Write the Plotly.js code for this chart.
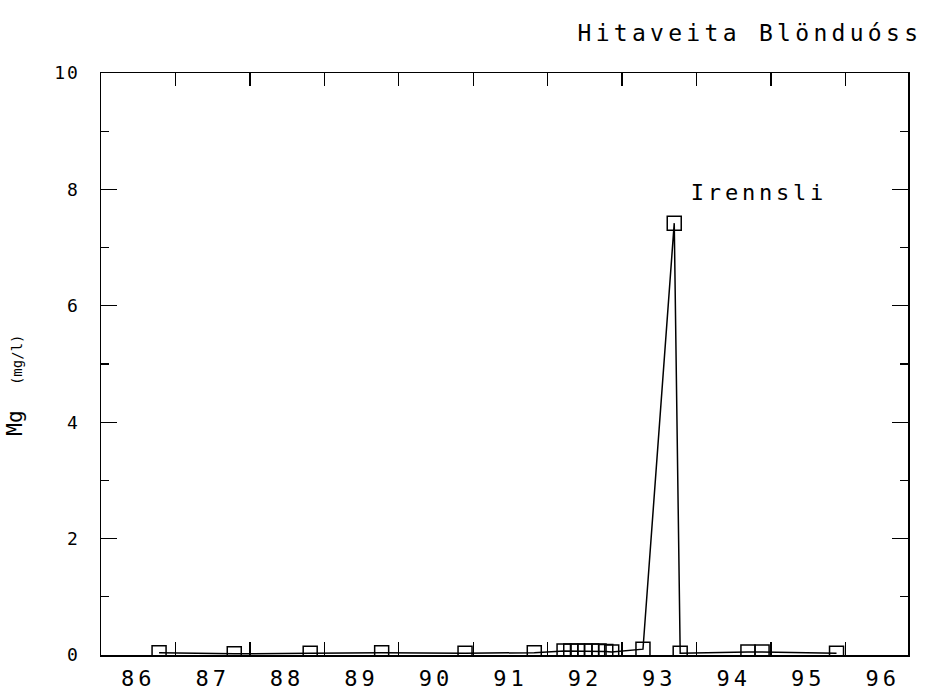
<!DOCTYPE html>
<html>
<head>
<meta charset="utf-8">
<script src="https://cdn.plot.ly/plotly-3.0.1.min.js"></script>
<style>
html,body{margin:0;padding:0;background:#fff}
#chart{width:926px;height:697px}
#chart .gtitle{letter-spacing:4.3px}
#chart .x2tick text{letter-spacing:4px}
#chart .ytick text{letter-spacing:2px}
#chart .annotation-text{letter-spacing:3.8px}
#chart .ytitle .small{letter-spacing:1.5px}
</style>
</head>
<body>
<div id="chart"></div>
<script>
// Sampling dates (decimal years) and Mg concentration (mg/l)
const sampleYears = [1986.78, 1987.79, 1988.81, 1989.77, 1990.89, 1991.82,
  1992.22, 1992.31, 1992.40, 1992.50, 1992.59, 1992.69, 1992.78, 1992.86,
  1993.28, 1993.70, 1993.78, 1994.69, 1994.88, 1995.88];
const mgValues = [0.04, 0.02, 0.03, 0.04, 0.03, 0.04,
  0.07, 0.07, 0.07, 0.07, 0.07, 0.07, 0.06, 0.05,
  0.10, 7.42, 0.03, 0.05, 0.05, 0.03];
const yearLabelPos = [1986.5, 1987.5, 1988.5, 1989.5, 1990.5, 1991.5, 1992.5, 1993.5, 1994.5, 1995.5, 1996.5];
const yearLabels = ['86','87','88','89','90','91','92','93','94','95','96'];
const yearTicks = [1987, 1988, 1989, 1990, 1991, 1992, 1993, 1994, 1995, 1996];
const seriesName = 'Irennsli';

const font = {family: 'DejaVu Sans Mono, monospace', color: '#000'};
const xRange = [1986, 1996.84];

const trace = {
  x: sampleYears, y: mgValues, type: 'scatter', mode: 'lines+markers',
  name: seriesName,
  line: {color: '#000', width: 1.5},
  marker: {symbol: 'square-open', size: 14, color: '#000', line: {width: 1.5, color: '#000'}},
  showlegend: false
};

const layout = {
  width: 926, height: 697,
  margin: {l: 101, r: 18, t: 73, b: 42},
  paper_bgcolor: '#fff', plot_bgcolor: '#fff',
  font: Object.assign({size: 17}, font),
  title: {text: 'Hitaveita Blönduóss', font: Object.assign({size: 23}, font),
    xref: 'container', x: 0.996, xanchor: 'right', yref: 'container', y: 0.953, yanchor: 'middle'},
  xaxis: {
    range: xRange, tickmode: 'array', tickvals: yearTicks, showticklabels: false,
    ticks: 'inside', ticklen: 13, tickwidth: 1.3, tickcolor: '#000',
    showline: true, linecolor: '#000', linewidth: 1.5, mirror: 'ticks',
    showgrid: false, zeroline: false
  },
  xaxis2: {
    overlaying: 'x', side: 'bottom', anchor: 'y',
    range: xRange, tickmode: 'array', tickvals: yearLabelPos, ticktext: yearLabels,
    ticks: '', showline: false, showgrid: false, zeroline: false,
    ticklabelstandoff: 8,
    tickfont: Object.assign({size: 22}, font)
  },
  yaxis: {
    range: [0, 10], tickmode: 'linear', tick0: 0, dtick: 2,
    ticks: 'inside', ticklen: 16, tickwidth: 1.3, tickcolor: '#000',
    minor: {tickmode: 'linear', tick0: 1, dtick: 1, ticks: 'inside', ticklen: 8, tickwidth: 1.3, tickcolor: '#000'},
    showline: true, linecolor: '#000', linewidth: 1.5, mirror: 'ticks',
    showgrid: false, zeroline: false,
    ticklabelstandoff: 16,
    tickfont: Object.assign({size: 18}, font),
    title: {text: "Mg&nbsp;&nbsp;<span class='small' style='font-size:14px'>(mg/l)&nbsp;&nbsp;&nbsp;&nbsp;&nbsp;</span>", font: Object.assign({size: 21}, font), standoff: 30}
  },
  annotations: [{
    text: seriesName, xref: 'x', yref: 'y', x: 1994.836, y: 7.94,
    xanchor: 'center', yanchor: 'middle', showarrow: false,
    font: Object.assign({size: 22}, font)
  }]
};

// invisible trace on xaxis2 so the year-label axis is drawn
const labelTrace = {x: [xRange[0]], y: [null], xaxis: 'x2', yaxis: 'y', mode: 'markers', showlegend: false, hoverinfo: 'skip'};

Plotly.newPlot('chart', [trace, labelTrace], layout, {staticPlot: true});
</script>
</body>
</html>
